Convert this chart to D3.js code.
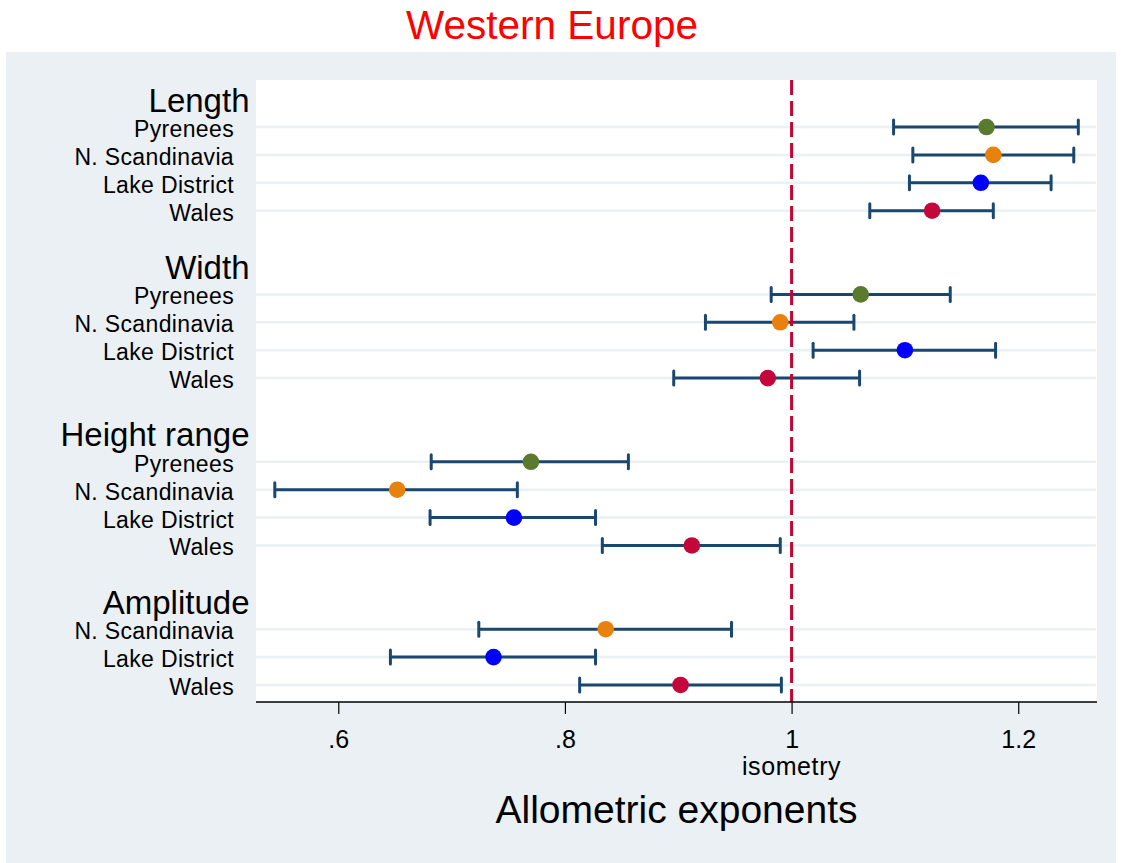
<!DOCTYPE html>
<html>
<head>
<meta charset="utf-8">
<script src="https://cdn.jsdelivr.net/npm/d3@7"></script>
<style>
  body { margin: 0; background: #fff; }
  svg { display: block; font-family: "Liberation Sans", Arial, sans-serif; }
</style>
</head>
<body>
<svg id="chart" width="1122" height="863"></svg>
<script>
// data
const groupNames = ["Length", "Width", "Height range", "Amplitude"];
const rowGroup  = [0, 0, 0, 0, 1, 1, 1, 1, 2, 2, 2, 2, 3, 3, 3];
const rowRegion = ["Pyrenees", "N. Scandinavia", "Lake District", "Wales",
                   "Pyrenees", "N. Scandinavia", "Lake District", "Wales",
                   "Pyrenees", "N. Scandinavia", "Lake District", "Wales",
                   "N. Scandinavia", "Lake District", "Wales"];
const estimate = [1.172, 1.178, 1.167, 1.124,
                  1.061, 0.990, 1.100, 0.979,
                  0.770, 0.652, 0.755, 0.912,
                  0.836, 0.737, 0.902];
const lower    = [1.090, 1.107, 1.104, 1.069,
                  0.982, 0.924, 1.019, 0.896,
                  0.682, 0.544, 0.681, 0.833,
                  0.724, 0.646, 0.813];
const upper    = [1.253, 1.249, 1.229, 1.178,
                  1.140, 1.055, 1.180, 1.060,
                  0.856, 0.758, 0.827, 0.990,
                  0.947, 0.827, 0.991];
const xTicks = [0.6, 0.8, 1.0, 1.2];
const isometryValue = 1;

const regionColor = {
    "Pyrenees": "#5a7a2e",
    "N. Scandinavia": "#e8820c",
    "Lake District": "#0000ff",
    "Wales": "#c4063b"
};

// layout
const svg = d3.select("#chart");
const plot = { left: 256, right: 1097, top: 80, bottom: 702 };

// build row positions: header row, item rows, blank row per group
const rows = [];
const headers = [];
let idx = 0;
groupNames.forEach((g, gi) => {
    headers.push({ name: g, i: idx });
    idx++;
    rowGroup.forEach((rg, k) => {
        if (rg === gi) {
            rows.push({ region: rowRegion[k], est: estimate[k], lo: lower[k], hi: upper[k], i: idx });
            idx++;
        }
    });
    idx++; // blank row between groups
});

const x = d3.scaleLinear().domain([0.5274, 1.2695]).range([plot.left, plot.right]);
const y = d3.scaleLinear().domain([-0.685, 21.61]).range([plot.top, plot.bottom]);

// backgrounds
svg.append("rect").attr("x", 6).attr("y", 52).attr("width", 1110).attr("height", 811).attr("fill", "#eaf0f3");
svg.append("rect").attr("x", plot.left).attr("y", plot.top)
    .attr("width", plot.right - plot.left).attr("height", plot.bottom - plot.top).attr("fill", "#fff");

// title
svg.append("text").attr("x", 552).attr("y", 39).attr("text-anchor", "middle")
    .attr("font-size", 40.5).attr("fill", "#ff0000").text("Western Europe");

// grid lines on item rows
svg.append("g").selectAll("line").data(rows).enter().append("line")
    .attr("x1", plot.left).attr("x2", plot.right - 1)
    .attr("y1", d => y(d.i)).attr("y2", d => y(d.i))
    .attr("stroke", "#eaf0f3").attr("stroke-width", 2.5);

// labels
svg.append("g").selectAll("text").data(headers).enter().append("text")
    .attr("x", 249.5).attr("y", d => y(d.i) + 12.5)
    .attr("text-anchor", "end").attr("font-size", 33).attr("fill", "#000")
    .text(d => d.name);

svg.append("g").selectAll("text").data(rows).enter().append("text")
    .attr("x", 234).attr("y", d => y(d.i) + 10)
    .attr("text-anchor", "end").attr("font-size", 23).attr("letter-spacing", 0.35)
    .attr("fill", "#000")
    .text(d => d.region);

// error bars
const bars = svg.append("g").attr("stroke", "#1a476f").attr("stroke-width", 3);
rows.forEach(d => {
    bars.append("line").attr("x1", x(d.lo)).attr("x2", x(d.hi)).attr("y1", y(d.i)).attr("y2", y(d.i));
    [d.lo, d.hi].forEach(v => {
        bars.append("line").attr("x1", x(v)).attr("x2", x(v))
            .attr("y1", y(d.i) - 7).attr("y2", y(d.i) + 7)
            .attr("stroke-linecap", "round");
    });
});

// isometry line
svg.append("line")
    .attr("x1", x(isometryValue)).attr("x2", x(isometryValue))
    .attr("y1", plot.top).attr("y2", plot.bottom)
    .attr("stroke", "#c10534").attr("stroke-width", 3)
    .attr("stroke-dasharray", "15,6");

// points
svg.append("g").selectAll("circle").data(rows).enter().append("circle")
    .attr("cx", d => x(d.est)).attr("cy", d => y(d.i)).attr("r", 8.3)
    .attr("fill", d => regionColor[d.region]);

// x axis
const axis = svg.append("g").attr("transform", `translate(0,${plot.bottom})`)
    .call(d3.axisBottom(x).tickValues(xTicks).tickSize(12).tickPadding(16)
        .tickFormat(v => d3.format(".1f")(v).replace(/^0/, "").replace(/\.0$/, "")));
axis.select(".domain").attr("stroke", "#000").attr("stroke-width", 1.5)
    .attr("d", `M${plot.left},0H${plot.right}`);
axis.selectAll(".tick line").attr("stroke", "#000").attr("stroke-width", 1.2);
axis.selectAll(".tick text").attr("font-size", 25).attr("fill", "#000")
    .attr("font-family", "Liberation Sans, Arial, sans-serif").attr("dy", "0.71em");

svg.append("text").attr("x", x(isometryValue)).attr("y", 775).attr("text-anchor", "middle")
    .attr("font-size", 25).attr("letter-spacing", 0.6).attr("fill", "#000").text("isometry");

svg.append("text").attr("x", (plot.left + plot.right) / 2).attr("y", 823).attr("text-anchor", "middle")
    .attr("font-size", 39).attr("fill", "#000").text("Allometric exponents");
</script>
</body>
</html>
